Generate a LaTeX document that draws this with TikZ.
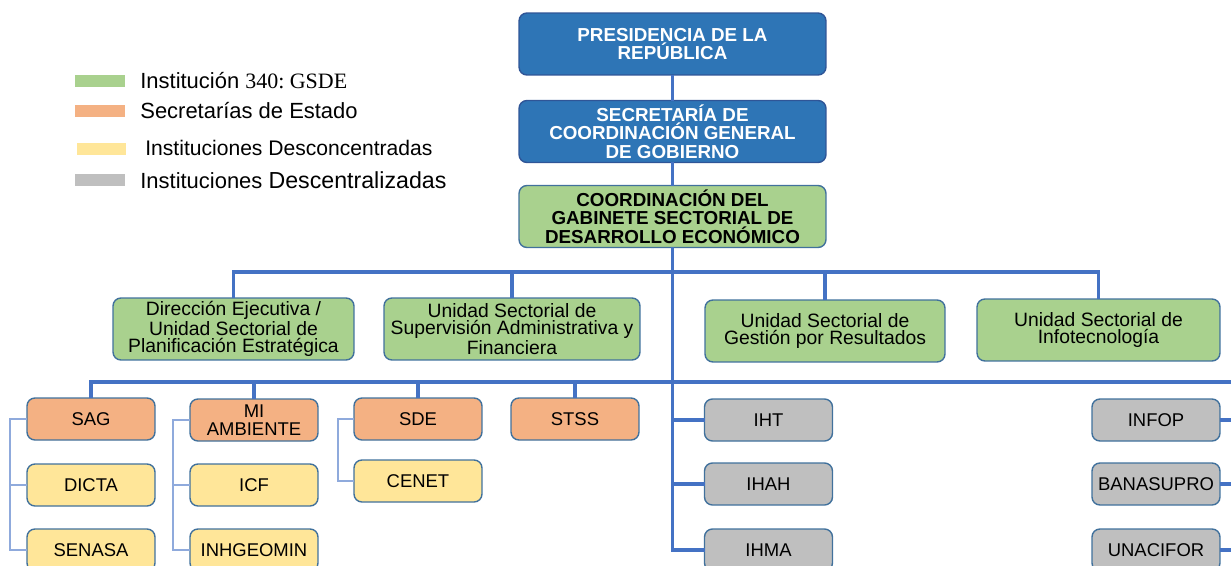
\documentclass[tikz,border=0pt]{standalone}
\usepackage{fontspec}
\setmainfont{Liberation Sans}
\newfontfamily\legserif{Liberation Serif}
\definecolor{presblue}{HTML}{2E75B6}
\definecolor{presline}{HTML}{2F5597}
\definecolor{gsdegreen}{HTML}{A9D18E}
\definecolor{secorange}{HTML}{F4B183}
\definecolor{descyellow}{HTML}{FFE699}
\definecolor{descgray}{HTML}{BFBFBF}
\definecolor{boxline}{HTML}{41719C}
\definecolor{trunkblue}{HTML}{4472C4}
\definecolor{twigblue}{HTML}{8FAADC}

\begin{document}
\begin{tikzpicture}[x=0.02cm, y=-0.02cm,
    box/.style = {rectangle,rounded corners=4.5pt,draw=boxline,line width=0.8pt,align=center,inner sep=1pt,outer sep=0pt},
    head/.style = {box,draw=presline,fill=presblue,text=white,font=\bfseries\fontsize{10.7}{10.5}\selectfont,minimum width=6.14cm,minimum height=1.24cm},
    unit/.style = {box,fill=gsdegreen,font=\fontsize{11}{10}\selectfont,minimum height=1.24cm},
    inst/.style = {box,font=\fontsize{10.5}{10}\selectfont,minimum width=2.56cm,minimum height=0.84cm},
    swatch/.style = {rectangle,minimum width=1cm,minimum height=0.24cm,inner sep=0pt},
    legend/.style = {anchor=west,inner sep=0pt,font=\fontsize{12.5}{12.5}\selectfont},
    bus/.style = {draw=trunkblue,line width=2.2pt},
    twig/.style = {draw=twigblue,line width=0.8pt}]
\useasboundingbox (0,0) rectangle (1231,565);
\clip (0,0) rectangle (1231,565);

\foreach \n/\x/\y/\c in {swA/100/81/gsdegreen, swB/100/111/secorange, swC/101.5/149/descyellow, swD/100/180/descgray} \node[swatch,fill=\c] (\n) at (\x,\y) {};
\node[legend] (legA) at (140,81) {Institución {\legserif 340:\ GSDE}};
\node[legend] (legB) at (140,111) {Secretarías de Estado};
\node[legend,font=\fontsize{12}{12}\selectfont] (legC) at (145,148) {Instituciones Desconcentradas};
\node[legend] (legD) at (140,180) {Instituciones {\fontsize{13.2}{13.2}\selectfont Descentralizadas}};

\node[head] (pres) at (672.5,44) {PRESIDENCIA DE LA\\REPÚBLICA};
\node[head] (scgg) at (672.5,131.5) {SECRETARÍA DE\\COORDINACIÓN GENERAL\\DE GOBIERNO};
\node[head,fill=gsdegreen,draw=boxline,text=black] (gsde) at (672.5,216.5) {COORDINACIÓN DEL\\GABINETE SECTORIAL DE\\DESARROLLO ECONÓMICO};

\node[unit,minimum width=4.82cm] (dep) at (233.5,329) {Dirección Ejecutiva /\\Unidad Sectorial de\\Planificación Estratégica};
\node[unit,minimum width=5.12cm] (usa) at (512,329) {Unidad Sectorial de\\Supervisión Administrativa y\\Financiera};
\node[unit,minimum width=4.8cm] (ugr) at (825,331) {Unidad Sectorial de\\Gestión por Resultados};
\node[unit,minimum width=4.86cm] (uit) at (1098.5,330) {Unidad Sectorial de\\Infotecnología};

\foreach \n/\x/\y/\t in {sag/91/419/SAG, mia/254/420/{MI\\AMBIENTE}, sde/418/419/SDE, stss/575/419/STSS} \node[inst,fill=secorange] (\n) at (\x,\y) {\t};
\foreach \n/\x/\y/\t in {dicta/91/485/DICTA, senasa/91/550/SENASA, icf/254/485/ICF, inhgeomin/254/550/INHGEOMIN, cenet/418/481/CENET} \node[inst,fill=descyellow] (\n) at (\x,\y) {\t};
\foreach \n/\x/\y/\t in {iht/768.5/420/IHT, ihah/768.5/484/IHAH, ihma/768.5/550/IHMA, infop/1156/420/INFOP, banasupro/1156/484/BANASUPRO, unacifor/1156/550/UNACIFOR} \node[inst,fill=descgray] (\n) at (\x,\y) {\t};

\coordinate (bus1) at (672.5,272);
\coordinate (rtop) at (1245,382);
\draw[bus] (pres) -- (scgg);
\draw[bus] (scgg) -- (gsde);
\draw[bus] (gsde) -- (gsde |- ihma) -- (ihma);
\foreach \n in {iht,ihah} \draw[bus] (gsde |- \n) -- (\n);
\draw[bus] (dep) |- (bus1) -| (uit);
\foreach \n in {usa,ugr} \draw[bus] (\n) -- (\n |- bus1);
\draw[bus] (sag) |- (rtop) -- (rtop |- unacifor);
\foreach \n in {mia,sde,stss} \draw[bus] (\n) -- (\n |- rtop);
\foreach \n in {infop,banasupro,unacifor} \draw[bus] (\n) -- (rtop |- \n);
\foreach \p/\a/\b in {sag/dicta/senasa, mia/icf/inhgeomin} {
    \draw[twig] (\p.west) -- ++(-17,0) |- (\b.west);
    \draw[twig] (\a.west) -- ++(-17,0);
}
\draw[twig] (sde.west) -- ++(-16,0) |- (cenet.west);
\end{tikzpicture}
\end{document}
